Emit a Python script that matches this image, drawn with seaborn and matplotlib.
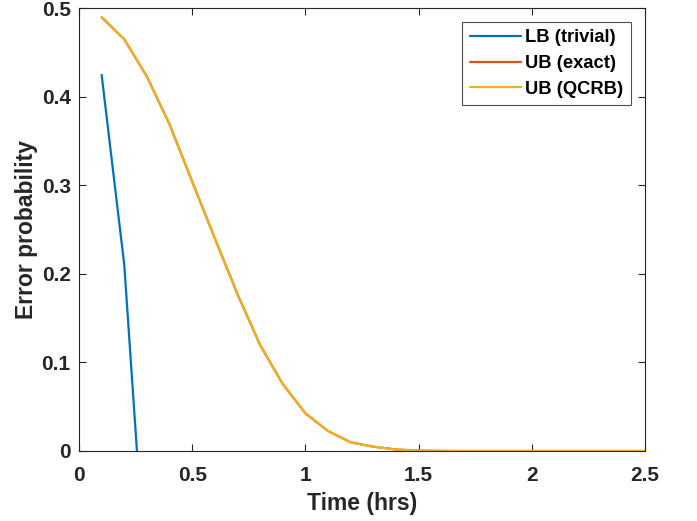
import numpy as np
import pandas as pd
import matplotlib
matplotlib.use("Agg")
import matplotlib.pyplot as plt
import seaborn as sns

# Data
time_lb = [0.1, 0.2, 0.3]
lb_trivial = [0.4245, 0.210, -0.165]

time_ub = [0.1, 0.2, 0.3, 0.4, 0.5, 0.6, 0.7, 0.8, 0.9, 1.0, 1.1, 1.2, 1.3,
           1.4, 1.5, 1.6, 1.7, 1.8, 1.9, 2.0, 2.1, 2.2, 2.3, 2.4, 2.5]
ub_exact = [0.4895, 0.4647, 0.4225, 0.3687, 0.304, 0.240, 0.177, 0.1196,
            0.0756, 0.0425, 0.0226, 0.0098, 0.0049, 0.0017, 0.0005, 0.0001,
            0.0, 0.0, 0.0, 0.0, 0.0, 0.0, 0.0, 0.0, 0.0]
ub_qcrb = list(ub_exact)

series_names = ["LB (trivial)", "UB (exact)", "UB (QCRB)"]
colors = ["#0072BD", "#D95319", "#EDB120"]

xticks = [0, 0.5, 1, 1.5, 2, 2.5]
xtick_labels = ["0", "0.5", "1", "1.5", "2", "2.5"]
yticks = [0, 0.1, 0.2, 0.3, 0.4, 0.5]
ytick_labels = ["0", "0.1", "0.2", "0.3", "0.4", "0.5"]

df = pd.concat([
    pd.DataFrame({"t": time_lb, "p": lb_trivial, "s": series_names[0]}),
    pd.DataFrame({"t": time_ub, "p": ub_exact, "s": series_names[1]}),
    pd.DataFrame({"t": time_ub, "p": ub_qcrb, "s": series_names[2]}),
], ignore_index=True)

sns.set_style("ticks")
plt.rcParams["font.family"] = ["Liberation Sans", "DejaVu Sans"]
plt.rcParams["font.weight"] = "bold"

fig = plt.figure(figsize=(6.97, 5.21), dpi=100)
ax = fig.add_axes([79 / 697, 70 / 521, 566 / 697, 443 / 521])

sns.lineplot(data=df, x="t", y="p", hue="s", hue_order=series_names,
             palette=colors, linewidth=1.6, ax=ax, sort=False,
             estimator=None, legend=True)

ax.set_xlim(0, 2.5)
ax.set_ylim(0, 0.5)
ax.set_xticks(xticks)
ax.set_xticklabels(xtick_labels)
ax.set_yticks(yticks)
ax.set_yticklabels(ytick_labels)

axcol = "#262626"
for sp in ax.spines.values():
    sp.set_visible(True)
    sp.set_color(axcol)
    sp.set_linewidth(0.8)
ax.tick_params(direction="in", length=5, width=0.8, color=axcol,
               labelcolor=axcol, labelsize=15, top=True, right=True)
ax.tick_params(axis="x", pad=11)
ax.tick_params(axis="y", pad=6)
for lab in ax.get_xticklabels() + ax.get_yticklabels():
    lab.set_fontweight("bold")

ax.set_xlabel("Time (hrs)", fontsize=16.5, fontweight="bold", color=axcol,
              labelpad=5)
ax.set_ylabel("Error probability", fontsize=16.5, fontweight="bold",
              color=axcol, labelpad=2.5)

leg = ax.legend(loc="upper right", fontsize=13.2, frameon=True, fancybox=False,
                edgecolor=axcol, handlelength=2.8, handletextpad=0.25,
                borderaxespad=0.75, labelspacing=0.47, borderpad=0.42)
leg.get_frame().set_linewidth(0.8)
for t in leg.get_texts():
    t.set_fontweight("bold")
    t.set_color("black")

fig.savefig("out.png", dpi=100)
